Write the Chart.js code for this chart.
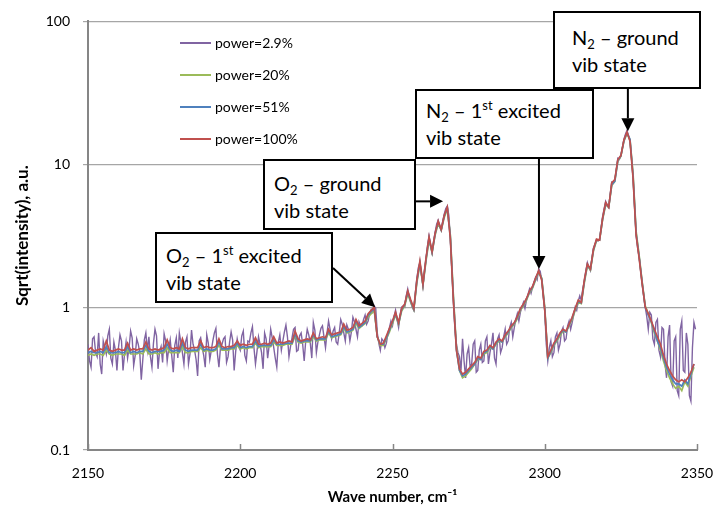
<!DOCTYPE html>
<html>
<head>
<meta charset="utf-8">
<script src="https://cdn.jsdelivr.net/npm/chart.js@4.4.1/dist/chart.umd.min.js"></script>
<style>
  html, body { margin: 0; padding: 0; background: #fff; }
  #wrap { position: relative; width: 714px; height: 521px; font-family: Lato, 'Open Sans', sans-serif; color: #000; }
  #chart { position: absolute; left: 0; top: 0; }
  .lg-row { position: absolute; height: 20px; white-space: nowrap; font-size: 14px; }
  .lg-sw { position: absolute; left: 0; top: 9px; width: 31px; height: 2px; }
  .lg-lbl { position: absolute; left: 35px; top: 0; line-height: 20px; }
  .note { position: absolute; box-sizing: border-box; border: 2px solid #000; background: #fff;
          font-size: 20px; line-height: 27px; white-space: nowrap; }
  .note sub { font-size: 13px; vertical-align: -4px; line-height: 0; }
  .note sup { font-size: 13px; vertical-align: 8px; line-height: 0; }
</style>
</head>
<body>
<div id="wrap">
  <canvas id="chart" width="714" height="521"></canvas>
</div>
<script>
(() => {
  // sampling grids (cm-1)
  const WN_START = 2150;
  const WN_STEP = 1;          // smooth series
  const WN_STEP_NOISY = 0.5;  // power=2.9% series
  const xTicks = [2150, 2200, 2250, 2300, 2350];
  const yTicks = [0.1, 1, 10, 100];

  const seriesLabels = ['power=2.9%', 'power=20%', 'power=51%', 'power=100%'];
  const seriesColors = ['#8064a2', '#9bbb59', '#4f81bd', '#c0504d'];

  // power=2.9% (noisy, 0.5 cm-1 step)
  const p029 = [
    0.55,0.42,0.38,0.60,0.62,0.48,0.45,0.66,0.40,0.34,0.58,0.52,0.47,0.63,0.70,0.44,0.40,0.57,0.50,0.36,
    0.52,0.64,0.58,0.36,0.47,0.57,0.44,0.52,0.68,0.61,0.39,0.46,0.60,0.55,0.48,0.31,0.43,0.59,0.66,0.50,
    0.62,0.45,0.38,0.56,0.70,0.63,0.37,0.49,0.53,0.41,0.65,0.58,0.42,0.51,0.59,0.46,0.35,0.54,0.61,0.44,
    0.66,0.57,0.48,0.40,0.57,0.62,0.40,0.47,0.69,0.55,0.50,0.43,0.33,0.58,0.61,0.52,0.46,0.38,0.64,0.56,
    0.43,0.50,0.58,0.66,0.71,0.47,0.38,0.52,0.55,0.60,0.62,0.41,0.45,0.57,0.67,0.59,0.36,0.49,0.60,0.53,
    0.50,0.63,0.68,0.46,0.42,0.58,0.57,0.66,0.73,0.52,0.40,0.49,0.62,0.55,0.48,0.37,0.66,0.60,0.44,0.54,
    0.70,0.61,0.52,0.44,0.38,0.57,0.64,0.50,0.58,0.67,0.75,0.62,0.45,0.53,0.61,0.70,0.72,0.49,0.50,0.63,
    0.66,0.55,0.42,0.58,0.70,0.64,0.56,0.44,0.78,0.69,0.48,0.57,0.64,0.71,0.74,0.62,0.52,0.66,0.80,0.70,
    0.60,0.68,0.72,0.57,0.55,0.66,0.82,0.76,0.66,0.58,0.75,0.70,0.58,0.67,0.85,0.79,0.70,0.62,0.79,0.74,
    0.74,0.82,0.88,0.76,0.80,0.90,0.96,0.92,1.02,0.98,0.66,0.56,0.50,0.60,0.58,0.52,0.56,0.66,0.72,0.80,
    0.74,0.86,0.95,0.82,0.72,0.88,1.00,1.02,1.00,1.20,1.34,1.18,1.08,1.00,0.95,1.25,1.60,1.90,2.05,1.70,
    1.40,1.80,2.15,2.70,3.15,2.70,2.40,2.90,3.35,3.80,4.05,3.70,3.45,4.00,4.50,4.90,5.10,4.40,3.00,1.80,
    1.10,0.70,0.55,0.48,0.45,0.36,0.60,0.42,0.32,0.47,0.52,0.38,0.40,0.55,0.58,0.35,0.36,0.50,0.55,0.41,
    0.42,0.58,0.62,0.40,0.48,0.55,0.66,0.44,0.40,0.60,0.64,0.48,0.52,0.62,0.70,0.55,0.58,0.72,0.78,0.62,
    0.72,0.82,0.90,0.80,0.92,1.00,1.08,0.98,1.12,1.22,1.34,1.25,1.38,1.50,1.62,1.55,1.85,1.78,1.55,1.20,
    0.95,0.55,0.42,0.52,0.58,0.45,0.48,0.62,0.66,0.50,0.55,0.68,0.72,0.58,0.60,0.74,0.80,0.70,0.78,0.88,
    1.00,0.95,1.10,1.20,1.12,1.35,1.50,1.80,2.05,1.90,1.80,2.20,2.60,2.75,2.95,2.90,3.00,3.60,4.30,4.90,
    5.50,5.20,5.00,6.20,7.50,7.40,7.70,9.20,11.0,10.8,11.4,13.0,15.0,16.2,17.2,16.0,14.5,11.0,8.00,5.00,
    3.20,2.60,2.25,1.80,1.45,1.20,1.00,0.86,0.70,0.92,0.88,0.60,0.55,0.78,0.82,0.50,0.45,0.72,0.70,0.40,
    0.32,0.62,0.75,0.30,0.28,0.58,0.62,0.26,0.24,0.70,0.80,0.36,0.35,0.66,0.55,0.24,0.22,0.52,0.78,0.70
  ];

  // power=20%
  const p20 = [
    0.46,0.47,0.46,0.47,0.47,0.46,0.50,0.47,0.46,0.47,
    0.47,0.47,0.46,0.50,0.47,0.47,0.47,0.48,0.47,0.51,
    0.47,0.47,0.48,0.47,0.48,0.48,0.52,0.48,0.48,0.48,
    0.48,0.53,0.48,0.48,0.49,0.49,0.49,0.52,0.49,0.50,
    0.49,0.49,0.50,0.54,0.50,0.50,0.50,0.51,0.51,0.54,
    0.51,0.52,0.51,0.52,0.52,0.56,0.52,0.53,0.53,0.53,
    0.53,0.57,0.54,0.54,0.54,0.55,0.55,0.55,0.63,0.57,
    0.56,0.57,0.57,0.57,0.62,0.58,0.59,0.59,0.59,0.66,
    0.61,0.62,0.63,0.64,0.71,0.66,0.67,0.69,0.77,0.71,
    0.74,0.77,0.85,0.90,0.95,0.62,0.54,0.54,0.60,0.67,
    0.77,0.88,0.76,0.94,1.02,1.24,1.08,0.96,1.48,2.00,
    1.42,2.10,2.95,2.40,3.20,3.85,3.45,4.25,4.85,3.20,
    1.20,0.52,0.36,0.32,0.33,0.35,0.37,0.40,0.43,0.43,
    0.47,0.48,0.52,0.51,0.55,0.58,0.57,0.62,0.66,0.72,
    0.76,0.83,0.95,1.02,1.12,1.26,1.36,1.55,1.76,1.60,
    1.00,0.44,0.48,0.54,0.58,0.63,0.68,0.67,0.74,0.82,
    0.95,1.08,1.06,1.48,1.95,1.82,2.48,2.92,2.95,4.10,
    5.20,5.00,7.10,7.60,10.5,11.4,14.5,16.4,14.8,8.6,
    3.40,2.30,1.50,1.02,0.90,0.78,0.66,0.58,0.50,0.42,
    0.36,0.32,0.29,0.27,0.28,0.26,0.30,0.28,0.33,0.38
  ];

  // power=51%
  const p51 = [
    0.48,0.49,0.48,0.48,0.49,0.48,0.53,0.48,0.48,0.48,
    0.49,0.48,0.48,0.53,0.48,0.49,0.48,0.49,0.49,0.54,
    0.49,0.48,0.49,0.49,0.49,0.50,0.55,0.50,0.49,0.50,
    0.49,0.56,0.50,0.49,0.50,0.50,0.50,0.55,0.50,0.51,
    0.50,0.50,0.51,0.57,0.51,0.51,0.51,0.52,0.52,0.56,
    0.52,0.53,0.52,0.53,0.53,0.58,0.53,0.54,0.54,0.54,
    0.54,0.59,0.55,0.55,0.55,0.56,0.56,0.56,0.65,0.58,
    0.57,0.58,0.58,0.58,0.64,0.59,0.60,0.60,0.60,0.68,
    0.62,0.63,0.64,0.65,0.73,0.67,0.68,0.70,0.80,0.72,
    0.75,0.78,0.88,0.93,0.98,0.62,0.55,0.55,0.61,0.69,
    0.79,0.90,0.77,0.96,1.04,1.28,1.10,0.97,1.52,2.05,
    1.44,2.16,3.05,2.42,3.25,3.95,3.48,4.35,4.95,3.10,
    1.15,0.50,0.36,0.33,0.34,0.36,0.38,0.40,0.44,0.43,
    0.48,0.49,0.53,0.51,0.56,0.59,0.57,0.63,0.67,0.73,
    0.77,0.85,0.97,1.04,1.14,1.28,1.38,1.58,1.78,1.58,
    0.97,0.44,0.49,0.55,0.59,0.65,0.69,0.67,0.75,0.84,
    0.97,1.10,1.07,1.52,1.98,1.84,2.52,2.96,2.95,4.15,
    5.30,5.00,7.20,7.60,10.6,11.5,14.6,16.6,15.0,8.3,
    3.30,2.25,1.48,1.00,0.88,0.79,0.68,0.58,0.52,0.44,
    0.38,0.34,0.31,0.29,0.29,0.28,0.31,0.29,0.34,0.40
  ];

  // power=100%
  const p100 = [
    0.50,0.52,0.49,0.50,0.51,0.50,0.58,0.50,0.49,0.50,
    0.51,0.50,0.50,0.56,0.50,0.51,0.50,0.51,0.51,0.57,
    0.51,0.50,0.51,0.50,0.51,0.52,0.59,0.52,0.51,0.52,
    0.51,0.60,0.52,0.51,0.52,0.52,0.52,0.58,0.52,0.53,
    0.52,0.52,0.53,0.60,0.53,0.52,0.53,0.53,0.54,0.58,
    0.54,0.55,0.54,0.55,0.55,0.61,0.55,0.55,0.56,0.55,
    0.56,0.62,0.56,0.57,0.56,0.57,0.58,0.57,0.68,0.60,
    0.58,0.59,0.60,0.59,0.66,0.60,0.61,0.62,0.61,0.70,
    0.64,0.65,0.66,0.67,0.76,0.69,0.70,0.72,0.82,0.74,
    0.77,0.80,0.90,0.95,1.00,0.62,0.55,0.56,0.63,0.71,
    0.80,0.92,0.78,0.98,1.05,1.30,1.12,0.98,1.55,2.10,
    1.45,2.20,3.10,2.45,3.30,4.00,3.50,4.40,5.00,3.00,
    1.10,0.50,0.37,0.34,0.35,0.37,0.39,0.41,0.45,0.44,
    0.49,0.50,0.54,0.52,0.57,0.60,0.58,0.64,0.68,0.74,
    0.78,0.86,0.98,1.05,1.15,1.30,1.40,1.60,1.80,1.55,
    0.95,0.45,0.50,0.56,0.60,0.66,0.70,0.68,0.76,0.85,
    0.98,1.12,1.08,1.55,2.00,1.85,2.55,3.00,2.95,4.20,
    5.40,5.00,7.40,7.80,10.8,11.5,14.8,16.8,14.5,8.0,
    3.20,2.20,1.45,1.00,0.90,0.80,0.70,0.62,0.55,0.46,
    0.40,0.36,0.33,0.31,0.30,0.31,0.30,0.32,0.35,0.40
  ];

  const seriesValues = [p029, p20, p51, p100];
  const seriesSteps = [WN_STEP_NOISY, WN_STEP, WN_STEP, WN_STEP];

  // annotation texts and the (wave number, value) each arrow points at
  const noteTexts = [
    'O<sub>2</sub> – 1<sup>st</sup> excited<br>vib state',
    'O<sub>2</sub> – ground<br>vib state',
    'N<sub>2</sub> – 1<sup>st</sup> excited<br>vib state',
    'N<sub>2</sub> – ground<br>vib state'
  ];
  const arrowTargets = [[2244.3, 1.0], [2266.6, 5.5], [2298.1, 1.85], [2327.3, 17.0]];

  // layout of boxes (px) and where each arrow leaves its box (null = follow the tip)
  const noteBoxes = [
    { left: 155, top: 232, width: 178, height: 71, padL: 9, padT: 8 },
    { left: 263, top: 159, width: 153, height: 71, padL: 9, padT: 9 },
    { left: 415, top: 89, width: 179, height: 70, padL: 9, padT: 6 },
    { left: 553, top: 11, width: 148, height: 78, padL: 17, padT: 11 }
  ];
  const arrowStarts = [{ x: 333, y: 268 }, { x: 415, y: null }, { x: null, y: 158 }, { x: null, y: 88 }];

  const wrap = document.getElementById('wrap');

  // legend
  seriesLabels.forEach((lab, i) => {
    const row = document.createElement('div');
    row.className = 'lg-row';
    row.style.left = '180px';
    row.style.top = (33 + i * 32) + 'px';
    row.innerHTML = '<span class="lg-sw" style="background:' + seriesColors[i] + '"></span>' +
                    '<span class="lg-lbl">' + lab + '</span>';
    wrap.appendChild(row);
  });

  // annotation boxes
  noteTexts.forEach((t, i) => {
    const b = noteBoxes[i];
    const d = document.createElement('div');
    d.className = 'note';
    d.style.left = b.left + 'px';
    d.style.top = b.top + 'px';
    d.style.width = b.width + 'px';
    d.style.height = b.height + 'px';
    d.style.paddingLeft = b.padL + 'px';
    d.style.paddingTop = b.padT + 'px';
    d.innerHTML = t;
    wrap.appendChild(d);
  });

  const axisGray = '#868686';

  // Excel-style tick marks pointing into the plot on the x axis
  const innerTicks = {
    id: 'innerTicks',
    afterDraw(chart) {
      const c = chart.ctx, xs = chart.scales.x, bottom = chart.chartArea.bottom;
      c.save();
      c.strokeStyle = axisGray;
      c.lineWidth = 1.5;
      xTicks.forEach(v => {
        const px = Math.round(xs.getPixelForValue(v)) + 0.5;
        c.beginPath();
        c.moveTo(px, bottom);
        c.lineTo(px, bottom - 6);
        c.stroke();
      });
      c.restore();
    }
  };

  const arrows = {
    id: 'arrows',
    afterDraw(chart) {
      const c = chart.ctx, xs = chart.scales.x, ys = chart.scales.y;
      c.save();
      c.strokeStyle = '#000';
      c.fillStyle = '#000';
      c.lineWidth = 2;
      arrowTargets.forEach((t, i) => {
        const tx = xs.getPixelForValue(t[0]);
        const ty = ys.getPixelForValue(t[1]);
        const sx = arrowStarts[i].x === null ? tx : arrowStarts[i].x;
        const sy = arrowStarts[i].y === null ? ty : arrowStarts[i].y;
        const ang = Math.atan2(ty - sy, tx - sx);
        const len = 13, half = 6.5;
        const bx = tx - len * Math.cos(ang), by = ty - len * Math.sin(ang);
        c.beginPath();
        c.moveTo(sx, sy);
        c.lineTo(bx, by);
        c.stroke();
        c.beginPath();
        c.moveTo(tx, ty);
        c.lineTo(bx + half * Math.sin(ang), by - half * Math.cos(ang));
        c.lineTo(bx - half * Math.sin(ang), by + half * Math.cos(ang));
        c.closePath();
        c.fill();
      });
      c.restore();
    }
  };

  Chart.defaults.font.family = 'Lato, "Open Sans", sans-serif';
  Chart.defaults.color = '#000';

  const datasets = seriesValues.map((vals, i) => ({
    label: seriesLabels[i],
    data: vals.map((v, k) => ({ x: WN_START + k * seriesSteps[i], y: v })),
    borderColor: seriesColors[i],
    borderWidth: i === 0 ? 1.4 : 1.7,
    pointRadius: 0,
    tension: 0,
    fill: false,
    order: seriesValues.length - 1 - i
  }));

  new Chart(document.getElementById('chart').getContext('2d'), {
    type: 'line',
    data: { datasets },
    options: {
      responsive: false,
      animation: false,
      devicePixelRatio: 1,
      layout: { padding: { left: 0, right: 17, top: 15, bottom: 0 } },
      plugins: { legend: { display: false }, tooltip: { enabled: false } },
      scales: {
        x: {
          type: 'linear',
          min: 2150,
          max: 2350,
          afterBuildTicks: s => { s.ticks = xTicks.map(v => ({ value: v })); },
          afterFit: s => { s.height = 71; s.paddingLeft = 0; s.paddingRight = 0; },
          grid: { display: false },
          border: { display: true, color: axisGray, width: 2 },
          ticks: { font: { size: 14 }, padding: 7, maxRotation: 0, callback: v => String(v) },
          title: {
            display: true,
            text: 'Wave number, cm⁻¹',
            font: { size: 15, weight: 'bold' },
            padding: { top: 0, bottom: 15 }
          }
        },
        y: {
          type: 'logarithmic',
          min: 0.1,
          max: 100,
          afterBuildTicks: s => { s.ticks = yTicks.map(v => ({ value: v })); },
          afterFit: s => { s.width = 88; },
          grid: { color: '#a6a6a6', lineWidth: 1.2, drawTicks: true, tickLength: 5 },
          border: { display: true, color: axisGray, width: 2 },
          ticks: {
            font: { size: 14 },
            padding: 13,
            callback: v => String(v)
          },
          title: {
            display: true,
            text: 'Sqrt(intensity), a.u.',
            font: { size: 17, weight: 'bold' },
            padding: { top: 12, bottom: 0 }
          }
        }
      }
    },
    plugins: [innerTicks, arrows]
  });
})();
</script>
</body>
</html>
